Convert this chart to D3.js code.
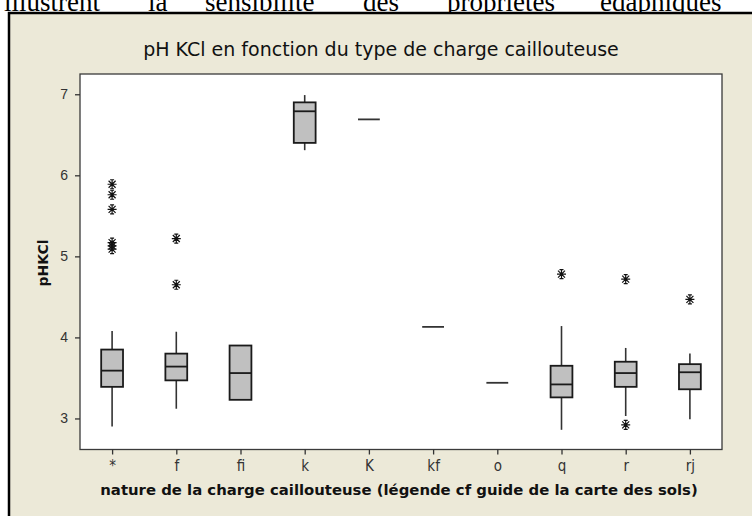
<!DOCTYPE html>
<html>
<head>
<meta charset="utf-8">
<script src="https://cdn.jsdelivr.net/npm/d3@7"></script>
<style>
  html, body { margin: 0; padding: 0; background: #ffffff; }
  svg { display: block; }
</style>
</head>
<body>
<svg id="chart" width="752" height="516"></svg>
<script>
// pH KCl par type de charge caillouteuse : quartiles, moustaches et valeurs extrêmes
const categories  = ["*", "f", "fi", "k", "K", "kf", "o", "q", "r", "rj"];
const whiskerLow  = [2.90, 3.12, null, 6.31, null, null, null, 2.86, 3.03, 2.99];
const q1          = [3.39, 3.47, 3.23, 6.40, 6.69, 4.13, 3.44, 3.26, 3.39, 3.36];
const median      = [3.59, 3.64, 3.56, 6.79, 6.69, 4.13, 3.44, 3.42, 3.56, 3.57];
const q3          = [3.85, 3.80, 3.90, 6.90, 6.69, 4.13, 3.44, 3.65, 3.70, 3.67];
const whiskerHigh = [4.08, 4.07, null, 6.99, null, null, null, 4.14, 3.87, 3.80];

const outlierCategory = ["*", "*", "*", "*", "*", "*", "f", "f", "q", "r", "r", "rj"];
const outlierValue    = [5.89, 5.76, 5.58, 5.17, 5.13, 5.09, 5.22, 4.65, 4.78, 4.72, 2.92, 4.47];

const yTicks = [3, 4, 5, 6, 7];

const titleText  = "pH KCl en fonction du type de charge caillouteuse";
const xLabelText = "nature de la charge caillouteuse (légende cf guide de la carte des sols)";
const yLabelText = "pHKCl";
const bodyWords  = ["illustrent", "la", "sensibilité", "des", "propriétés", "édaphiques"];

const svg = d3.select("#chart");
const W = 752, H = 516;

// running text of the surrounding document, cut by the top edge
const wordX = [4, 148, 205, 363, 447, 600];
svg.append("g")
  .selectAll("text")
  .data(bodyWords)
  .join("text")
  .attr("x", (d, i) => wordX[i])
  .attr("y", 10.5)
  .attr("font-family", "'Liberation Serif', 'Times New Roman', serif")
  .attr("font-size", 27)
  .attr("fill", "#000")
  .text(d => d);

// chart frame
svg.append("rect")
  .attr("x", 9).attr("y", 13)
  .attr("width", W + 20).attr("height", H + 20)
  .attr("fill", "#ECE9D8")
  .attr("stroke", "#000")
  .attr("stroke-width", 2.5);

const plot = { left: 80, right: 722, top: 74, bottom: 449.5 };

const x = d3.scalePoint()
  .domain(categories)
  .range([plot.left, plot.right])
  .padding(0.5);

const y = d3.scaleLinear()
  .domain([2.617, 7.25])
  .range([plot.bottom, plot.top]);

const boxW = x.step() * 0.34;

// plot area
svg.append("rect")
  .attr("x", plot.left).attr("y", plot.top)
  .attr("width", plot.right - plot.left)
  .attr("height", plot.bottom - plot.top)
  .attr("fill", "#ffffff")
  .attr("stroke", "#3a3a3a")
  .attr("stroke-width", 1.3);

// axes
const xAxis = d3.axisBottom(x).tickSize(5).tickPadding(6);
const gx = svg.append("g")
  .attr("transform", `translate(0,${plot.bottom})`)
  .call(xAxis);
gx.select(".domain").remove();
gx.selectAll(".tick line").attr("stroke", "#333").attr("stroke-width", 1.3);
gx.selectAll(".tick text")
  .attr("fill", "#333")
  .attr("font-family", "'Liberation Sans Narrow', 'Arial Narrow', 'DejaVu Sans Condensed', 'Liberation Sans', sans-serif")
  .attr("font-size", 15);

const yAxis = d3.axisLeft(y).tickValues(yTicks).tickFormat(d3.format("d")).tickSize(5).tickPadding(7);
const gy = svg.append("g")
  .attr("transform", `translate(${plot.left},0)`)
  .call(yAxis);
gy.select(".domain").remove();
gy.selectAll(".tick line").attr("stroke", "#333").attr("stroke-width", 1.3);
gy.selectAll(".tick text")
  .attr("fill", "#333")
  .attr("font-family", "'Liberation Sans', Arial, sans-serif")
  .attr("font-size", 14);

// boxplots
const groups = categories.map((c, i) => ({
  c, lo: whiskerLow[i], q1: q1[i], med: median[i], q3: q3[i], hi: whiskerHigh[i]
}));

const g = svg.append("g");

// whiskers
groups.filter(d => d.hi !== null).forEach(d => {
  g.append("line")
    .attr("x1", x(d.c)).attr("x2", x(d.c))
    .attr("y1", y(d.q3)).attr("y2", y(d.hi))
    .attr("stroke", "#333").attr("stroke-width", 1.6);
  g.append("line")
    .attr("x1", x(d.c)).attr("x2", x(d.c))
    .attr("y1", y(d.q1)).attr("y2", y(d.lo))
    .attr("stroke", "#333").attr("stroke-width", 1.6);
});

// boxes with a spread, and single lines where all quartiles coincide
groups.forEach(d => {
  if (d.q3 > d.q1) {
    g.append("rect")
      .attr("x", x(d.c) - boxW / 2)
      .attr("y", y(d.q3))
      .attr("width", boxW)
      .attr("height", y(d.q1) - y(d.q3))
      .attr("fill", "#C0C0C0")
      .attr("stroke", "#1a1a1a")
      .attr("stroke-width", 1.8);
    g.append("line")
      .attr("x1", x(d.c) - boxW / 2).attr("x2", x(d.c) + boxW / 2)
      .attr("y1", y(d.med)).attr("y2", y(d.med))
      .attr("stroke", "#1a1a1a").attr("stroke-width", 1.8);
  } else {
    g.append("line")
      .attr("x1", x(d.c) - boxW / 2).attr("x2", x(d.c) + boxW / 2)
      .attr("y1", y(d.med)).attr("y2", y(d.med))
      .attr("stroke", "#333").attr("stroke-width", 1.8);
  }
});

// outlier asterisks
const star = "M-4.5,0L4.5,0M0,-4.5L0,4.5M-3.5,-3.5L3.5,3.5M-3.5,3.5L3.5,-3.5M-2,-4.5L2,-4.5M-2,4.5L2,4.5";
g.selectAll("path.out")
  .data(outlierValue.map((v, i) => ({ c: outlierCategory[i], v })))
  .join("path")
  .attr("class", "out")
  .attr("transform", d => `translate(${x(d.c)},${y(d.v)})`)
  .attr("d", star)
  .attr("stroke", "#111")
  .attr("stroke-width", 1.2)
  .attr("fill", "none");

// titles
function fitText(sel, width) {
  const len = sel.node().getComputedTextLength();
  const fs = parseFloat(sel.attr("font-size"));
  sel.attr("font-size", fs * width / len);
  return sel;
}

const title = svg.append("text")
  .attr("x", (143 + 619) / 2).attr("y", 56)
  .attr("text-anchor", "middle")
  .attr("font-family", "'DejaVu Sans', Verdana, sans-serif")
  .attr("font-size", 16)
  .attr("fill", "#111")
  .text(titleText);
fitText(title, 476);

const xLabel = svg.append("text")
  .attr("x", (100 + 698) / 2).attr("y", 495)
  .attr("text-anchor", "middle")
  .attr("font-family", "'DejaVu Sans', Verdana, sans-serif")
  .attr("font-weight", "bold")
  .attr("font-size", 15)
  .attr("fill", "#111")
  .text(xLabelText);
fitText(xLabel, 598);

const yLabel = svg.append("text")
  .attr("transform", "translate(48,263) rotate(-90)")
  .attr("text-anchor", "middle")
  .attr("font-family", "'DejaVu Sans', Verdana, sans-serif")
  .attr("font-weight", "bold")
  .attr("font-size", 14)
  .attr("fill", "#111")
  .text(yLabelText);
fitText(yLabel, 47);
</script>
</body>
</html>
